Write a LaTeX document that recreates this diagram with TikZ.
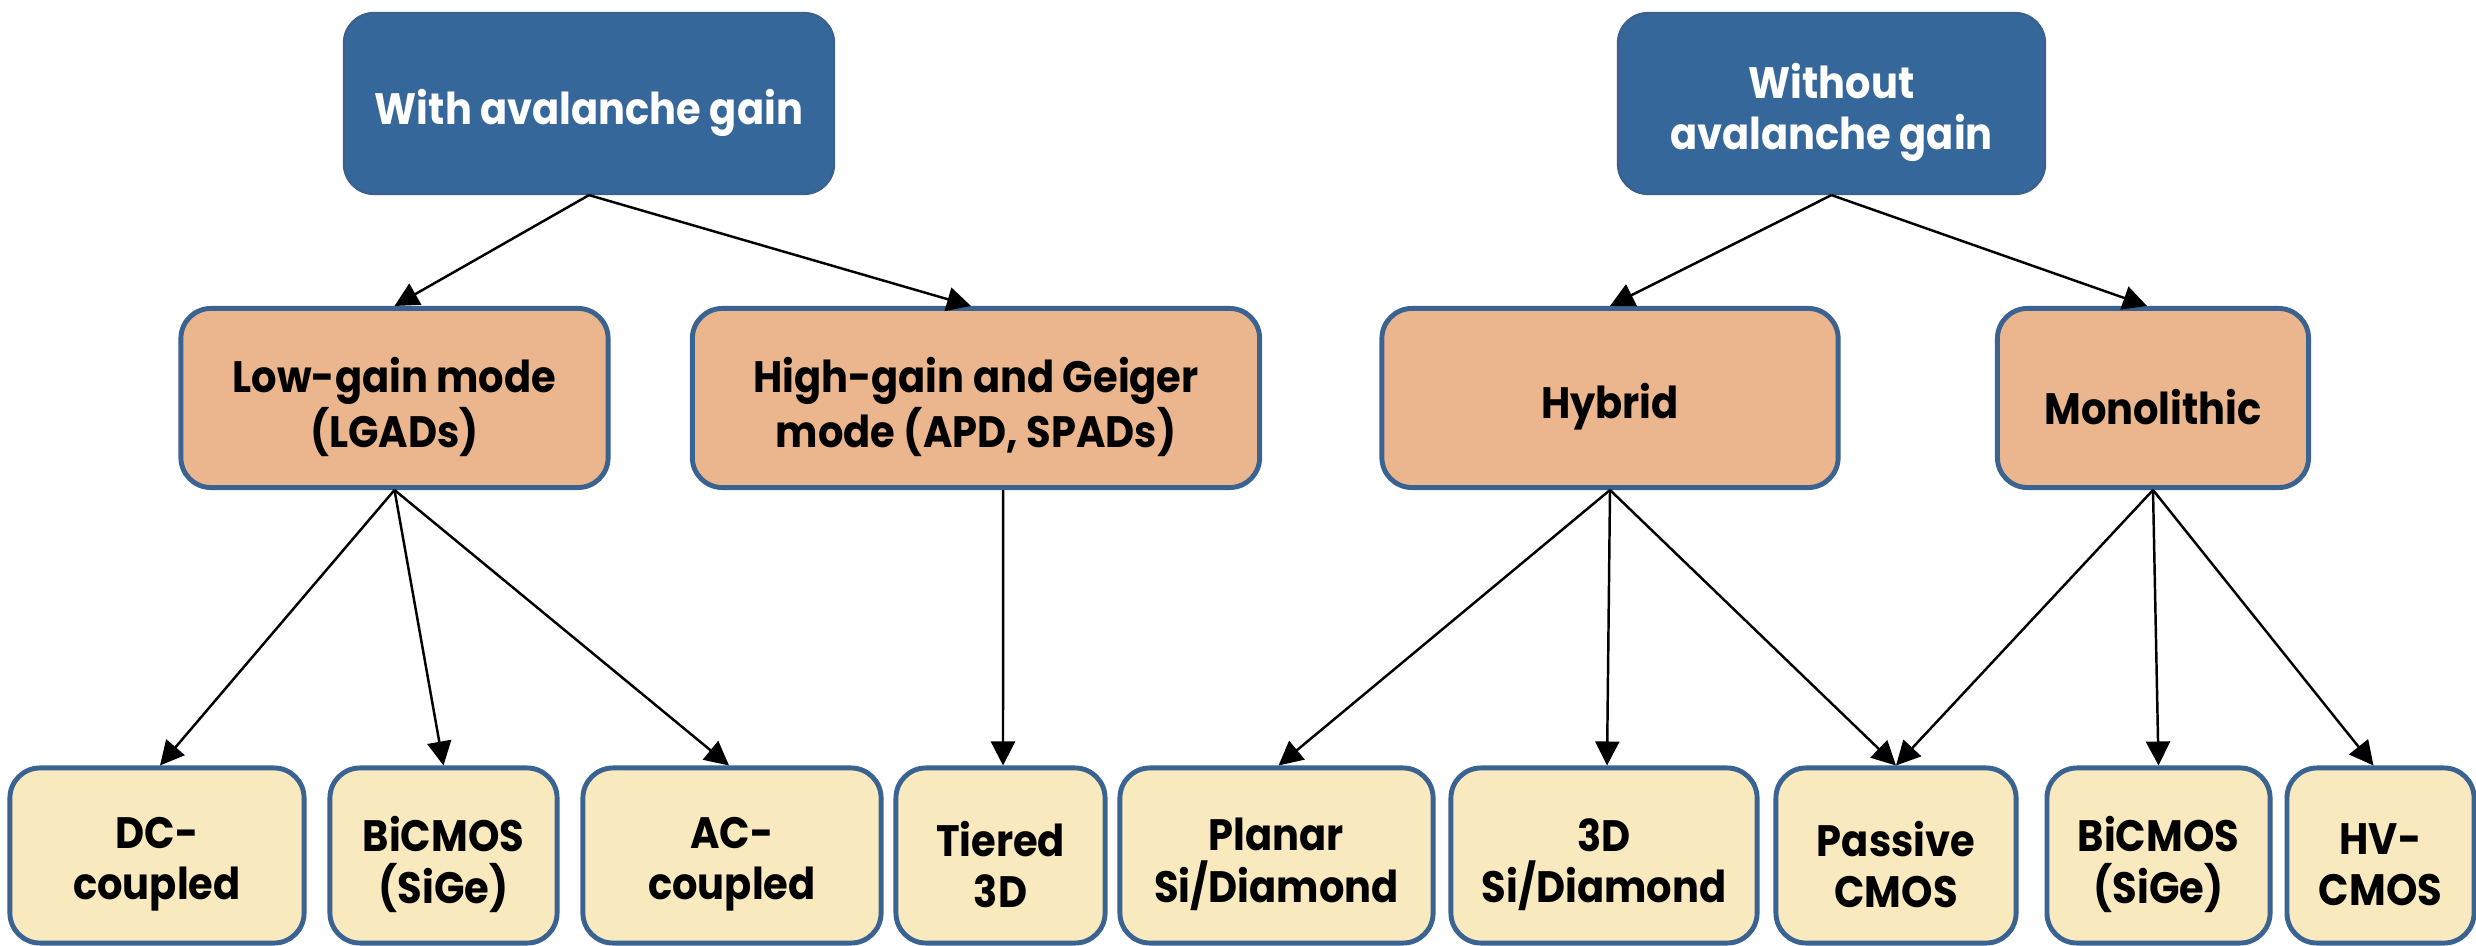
\documentclass[tikz,border=0pt]{standalone}
\usepackage{fontspec}
\setmainfont{Poppins}[BoldFont={Poppins Bold}, FakeStretch=0.91]
\usetikzlibrary{arrows.meta}
\definecolor{topfill}{RGB}{53,103,154}
\definecolor{topline}{RGB}{60,96,140}
\definecolor{midfill}{RGB}{235,182,141}
\definecolor{lowfill}{RGB}{249,233,190}
\definecolor{boxline}{RGB}{58,99,145}
\tikzset{
  x=0.01cm, y=-0.01cm,
  boxtext/.style={inner sep=0pt, align=center, yshift=-0.09cm,
    font=\fontsize{12.5}{14.6}\selectfont\bfseries},
  basebox/.style={rounded corners=0.3cm, inner sep=0pt},
  topbox/.style={basebox, fill=topfill, draw=topline, line width=0.6pt,
    minimum height=1.81cm},
  midbox/.style={basebox, fill=midfill, draw=boxline, line width=1.4pt,
    minimum height=1.79cm},
  lowbox/.style={basebox, fill=lowfill, draw=boxline, line width=1.4pt,
    minimum height=1.75cm},
  toptext/.style={label={[boxtext, text=white]center:#1}},
  dtext/.style={label={[boxtext, text=black]center:#1}},
  conn/.style={draw=black, line width=0.7pt, -{Triangle[length=0.24cm, width=0.24cm]}}
}
\begin{document}
\begin{tikzpicture}
\useasboundingbox (0,0) rectangle (2476,946);
% top
\node[topbox, minimum width=4.90cm, toptext={With avalanche gain}] (tl) at (589,103.5) {};
\node[topbox, minimum width=4.27cm, toptext={Without\\avalanche gain}] (tr) at (1831.5,103.5) {};
% middle
\node[midbox, minimum width=4.27cm, dtext={Low-gain mode\\(LGADs)}] (low) at (394.5,398) {};
\node[midbox, minimum width=5.67cm, dtext={High-gain and Geiger\\mode (APD, SPADs)}] (high) at (976,398) {};
\node[midbox, minimum width=4.56cm, dtext={Hybrid}] (hyb) at (1610,398) {};
\node[midbox, minimum width=3.11cm, dtext={Monolithic}] (mono) at (2153,398) {};
% bottom
\node[lowbox, minimum width=2.94cm, dtext={DC-\\coupled}] (dc) at (157,855.5) {};
\node[lowbox, minimum width=2.27cm, dtext={BiCMOS\\(SiGe)}] (bi1) at (443.5,855.5) {};
\node[lowbox, minimum width=2.98cm, dtext={AC-\\coupled}] (ac) at (732,855.5) {};
\node[lowbox, minimum width=2.09cm, dtext={Tiered\\3D}] (tier) at (1000.5,855.5) {};
\node[lowbox, minimum width=3.13cm, dtext={Planar\\Si/Diamond}] (plan) at (1276.5,855.5) {};
\node[lowbox, minimum width=3.06cm, dtext={3D\\Si/Diamond}] (d3) at (1604,855.5) {};
\node[lowbox, minimum width=2.40cm, dtext={Passive\\CMOS}] (pas) at (1896,855.5) {};
\node[lowbox, minimum width=2.23cm, dtext={BiCMOS\\(SiGe)}] (bi2) at (2158.5,855.5) {};
\node[lowbox, minimum width=1.87cm, dtext={HV-\\CMOS}] (hv) at (2380.5,855.5) {};
% connectors
\draw[conn] (tl.south) -- (low.north);
\draw[conn] (tl.south) -- ([xshift=-0.05cm]high.north);
\draw[conn] (tr.south) -- (hyb.north);
\draw[conn] (tr.south) -- ([xshift=-0.06cm]mono.north);
\draw[conn] (low.south) -- ([xshift=0.03cm]dc.north);
\draw[conn] (low.south) -- (bi1.north);
\draw[conn] (low.south) -- ([xshift=-0.03cm]ac.north);
\draw[conn] ([xshift=0.27cm]high.south) -- ([xshift=0.025cm]tier.north);
\draw[conn] (hyb.south) -- ([xshift=0.02cm]plan.north);
\draw[conn] (hyb.south) -- ([xshift=0.03cm]d3.north);
\draw[conn] (hyb.south) -- (pas.north);
\draw[conn] (mono.south) -- (pas.north);
\draw[conn] (mono.south) -- (bi2.north);
\draw[conn] (mono.south) -- ([xshift=-0.07cm]hv.north);
\end{tikzpicture}
\end{document}
